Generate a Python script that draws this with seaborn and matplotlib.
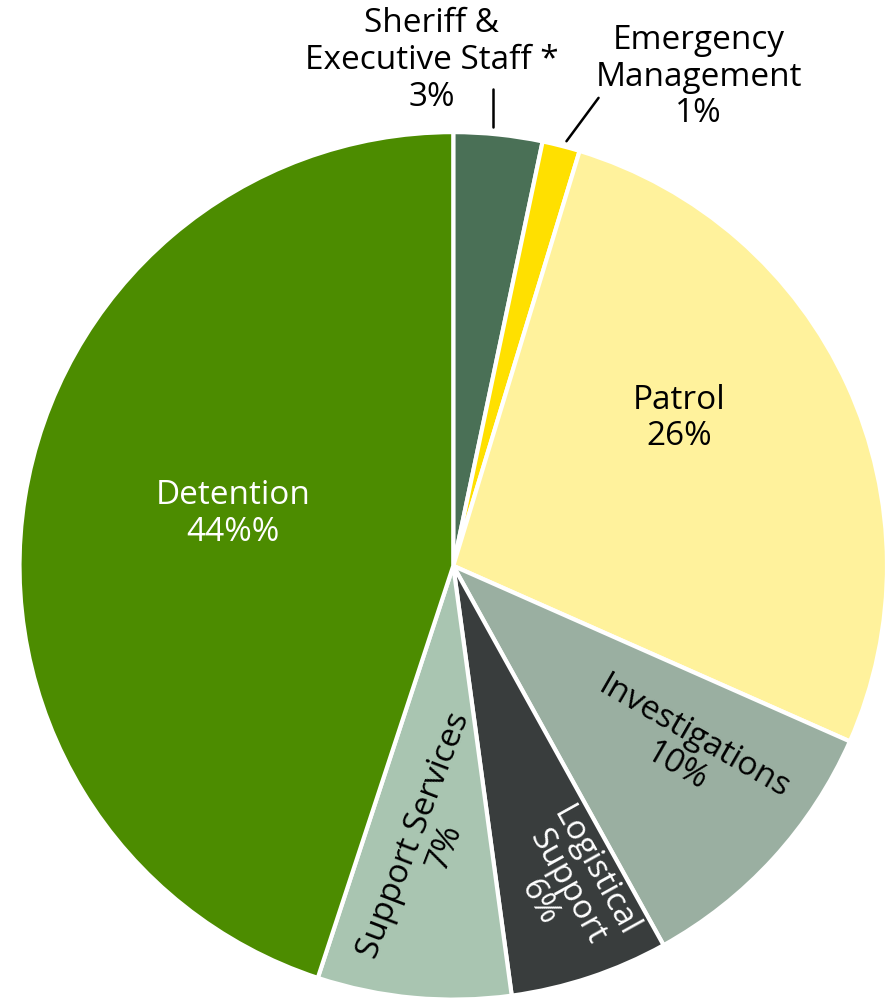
import matplotlib
matplotlib.use("Agg")
import matplotlib.pyplot as plt
import seaborn as sns

categories = ["Sheriff & Executive Staff *", "Emergency Management", "Patrol",
              "Investigations", "Logistical Support", "Support Services", "Detention"]
shares = [3.3, 1.4, 26.9, 10.3, 5.9, 7.2, 44.9]
pct_labels = ["3%", "1%", "26%", "10%", "6%", "7%", "44%%"]
colors = ["#4a7056", "#ffe000", "#fff29c", "#9aafa1", "#393d3d", "#a9c5b1", "#4c8c00"]

sns.set_theme(style="white")
plt.rcParams["font.family"] = ["Open Sans", "DejaVu Sans"]

fig = plt.figure(figsize=(8.87, 9.98), dpi=100)
ax = fig.add_axes([0.022, -0.002, 0.978, 0.870])
wedges, _ = ax.pie(shares, colors=sns.color_palette(colors), startangle=90, counterclock=False,
                   radius=1, wedgeprops=dict(edgecolor="white", linewidth=3))
ax.set_xlim(-1, 1)
ax.set_ylim(-1, 1)
ax.set_aspect("equal")
ax.axis("off")

fs = 24
# inside labels
ax.text(0.52, 0.34, f"{categories[2]}\n{pct_labels[2]}", ha="center", va="center",
        fontsize=fs, color="black", linespacing=1.15)
ax.text(-0.508, 0.12, f"{categories[6]}\n{pct_labels[6]}", ha="center", va="center",
        fontsize=fs, color="white", linespacing=1.15)
ax.text(0.535, -0.43, f"{categories[3]}\n{pct_labels[3]}", ha="center", va="center",
        fontsize=fs, color="black", rotation=-30, linespacing=1.05, rotation_mode="anchor")
ax.text(0.262, -0.74, "Logistical\nSupport\n" + pct_labels[4], ha="center", va="center",
        fontsize=fs, color="white", rotation=-61, linespacing=0.95, rotation_mode="anchor")
ax.text(-0.055, -0.635, f"{categories[5]}\n{pct_labels[5]}", ha="center", va="center",
        fontsize=fs, color="black", rotation=69, linespacing=1.0, rotation_mode="anchor")

# outside labels
ax.text(-0.05, 1.165, "Sheriff &\nExecutive Staff *\n" + pct_labels[0], ha="center", va="center",
        fontsize=fs, color="black", linespacing=1.15, clip_on=False)
ax.plot([0.092, 0.092], [1.10, 1.012], color="black", lw=1.8, clip_on=False)
ax.text(0.566, 1.127, "Emergency\nManagement\n" + pct_labels[1], ha="center", va="center",
        fontsize=fs, color="black", linespacing=1.15, clip_on=False)
ax.plot([0.261, 0.335], [0.979, 1.079], color="black", lw=1.8, clip_on=False)

fig.savefig("out.png", dpi=100)
